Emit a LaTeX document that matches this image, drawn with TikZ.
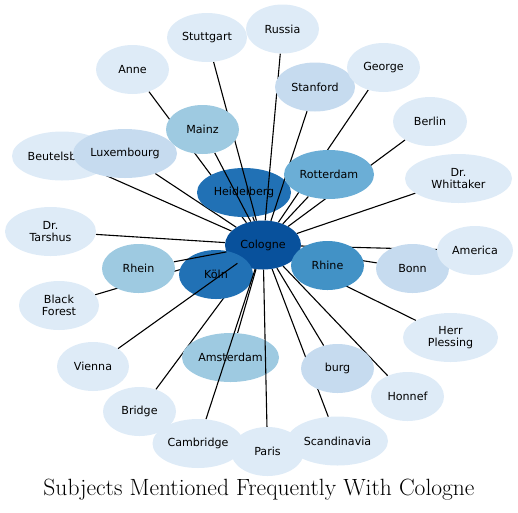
\documentclass[tikz,border=0pt]{standalone}
\usepackage{fontspec}
\newfontfamily\dejavu{DejaVu Sans}
\usetikzlibrary{shapes.geometric}
\definecolor{b7}{HTML}{08519C}
\definecolor{b6}{HTML}{2171B5}
\definecolor{b5}{HTML}{4292C6}
\definecolor{b4}{HTML}{6BAED6}
\definecolor{b3}{HTML}{9ECAE1}
\definecolor{b2}{HTML}{C6DBEF}
\definecolor{b1}{HTML}{DEEBF7}
\pgfdeclarelayer{bot}
\pgfdeclarelayer{mid}
\pgfdeclarelayer{upper}
\pgfsetlayers{bot,mid,upper,main}
\tikzset{
  nd/.style={ellipse, inner sep=0pt, align=center, minimum height=49pt,
    font=\dejavu\fontsize{11.1}{12.3}\selectfont, text=black},
  edge/.style={draw=black, line width=1.1pt},
  titlefont/.style={font=\fontsize{23.5}{28}\selectfont}
}
\begin{document}
\begin{tikzpicture}[x=1pt,y=-1pt]
\useasboundingbox (0,0) rectangle (518,512);
\begin{pgfonlayer}{mid}
\node[nd, fill=b7, minimum width=76pt] (cologne) at (263,245) {Cologne};
\node[nd, fill=b6, minimum width=94pt] (heidelberg) at (244,192.5) {Heidelberg};
\node[nd, fill=b6, minimum width=74pt] (koln) at (216,274.5) {Köln};
\node[nd, fill=b3, minimum width=97pt] (amsterdam) at (230.5,357.5) {Amsterdam};
\end{pgfonlayer}
% other nodes
\node[nd, fill=b1, minimum width=100pt] (beutelsbach) at (62,156) {Beutelsbach};
\node[nd, fill=b2, minimum width=104pt] (luxembourg) at (125,153.5) {Luxembourg};
\node[nd, fill=b4, minimum width=90pt] (rotterdam) at (329,174.5) {Rotterdam};
\node[nd, fill=b3, minimum width=73pt] (mainz) at (202.5,129.5) {Mainz};
\node[nd, fill=b3, minimum width=73pt] (rhein) at (138.5,268.5) {Rhein};
\node[nd, fill=b2, minimum width=80pt] (stanford) at (315,87) {Stanford};
\node[nd, fill=b2, minimum width=73pt] (bonn) at (412.5,268.5) {Bonn};
\node[nd, fill=b2, minimum width=73pt] (burg) at (337.5,368.5) {burg};
\node[nd, fill=b1, minimum width=73pt] (anne) at (132.5,69.5) {Anne};
\node[nd, fill=b1, minimum width=80pt] (stuttgart) at (207,37.5) {Stuttgart};
\node[nd, fill=b1, minimum width=73pt] (russia) at (282.5,29) {Russia};
\node[nd, fill=b1, minimum width=73pt] (george) at (383.5,67.5) {George};
\node[nd, fill=b1, minimum width=74pt] (berlin) at (430,121.5) {Berlin};
\node[nd, fill=b1, minimum width=107pt] (whittaker) at (458.5,178.5) {Dr.\\Whittaker};
\node[nd, fill=b1, minimum width=76pt] (america) at (475,250.5) {America};
\node[nd, fill=b5, minimum width=73pt] (rhine) at (327.5,265.5) {Rhine};
\node[nd, fill=b1, minimum width=95pt] (plessing) at (450.5,337.5) {Herr\\Plessing};
\node[nd, fill=b1, minimum width=73pt] (honnef) at (407.5,396.5) {Honnef};
\node[nd, fill=b1, minimum width=91pt] (cambridge) at (198,443.5) {Cambridge};
\node[nd, fill=b1, minimum width=73pt] (paris) at (267.5,451.5) {Paris};
\node[nd, fill=b1, minimum width=101pt] (scandinavia) at (337.5,441) {Scandinavia};
\node[nd, fill=b1, minimum width=73pt] (bridge) at (139.5,411.5) {Bridge};
\node[nd, fill=b1, minimum width=72pt] (vienna) at (93,366.5) {Vienna};
\node[nd, fill=b1, minimum width=80pt] (blackforest) at (59,305.5) {Black\\Forest};
\node[nd, fill=b1, minimum width=91pt] (tarshus) at (50.5,231.5) {Dr.\\Tarshus};
% edges under everything
\begin{pgfonlayer}{bot}
\foreach \t in {anne,blackforest,george,berlin,bonn,america,beutelsbach,tarshus,
  whittaker,luxembourg,plessing,honnef,scandinavia,burg,rotterdam,rhine,koln,
  heidelberg,amsterdam,bridge}
  \draw[edge] (cologne) -- (\t);
\end{pgfonlayer}
% edges above the inner nodes
\begin{pgfonlayer}{upper}
\foreach \t in {stuttgart,russia,stanford,mainz,vienna,cambridge,paris,rhein}
  \draw[edge] (cologne) -- (\t);
\end{pgfonlayer}
\node[titlefont, anchor=base] (title) at (259,495.5) {Subjects Mentioned Frequently With Cologne};
\end{tikzpicture}
\end{document}
